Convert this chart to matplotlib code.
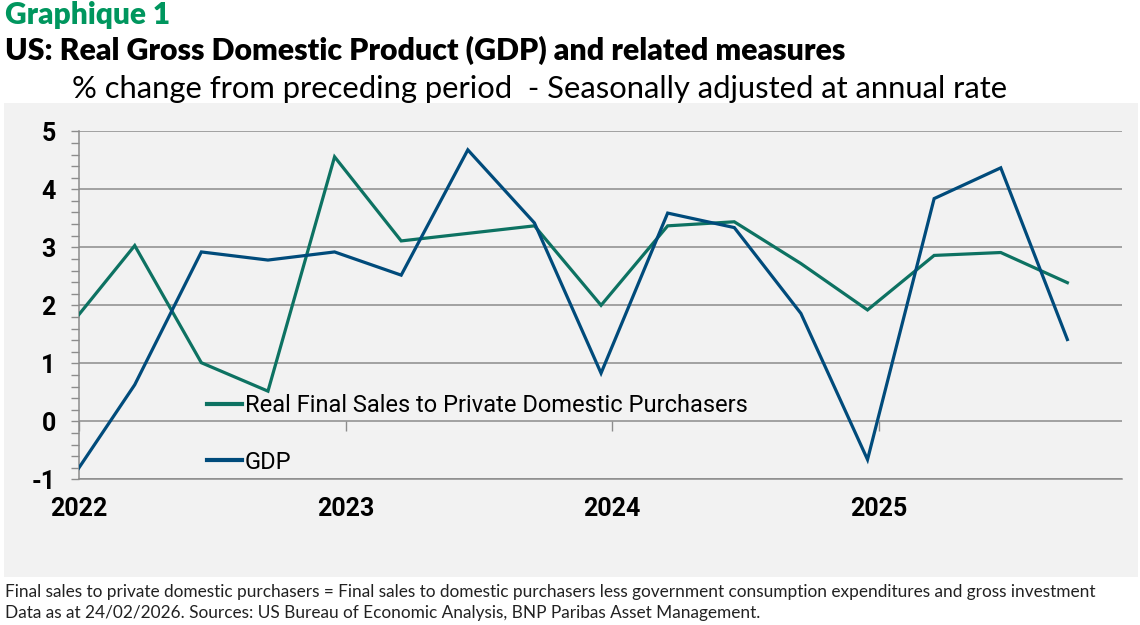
import matplotlib
matplotlib.use("Agg")
import matplotlib.pyplot as plt
from matplotlib.ticker import MultipleLocator

plt.rcParams["axes.unicode_minus"] = False

# quarterly data, % change q/q saar
quarters = ["2022Q1", "2022Q2", "2022Q3", "2022Q4",
            "2023Q1", "2023Q2", "2023Q3", "2023Q4",
            "2024Q1", "2024Q2", "2024Q3", "2024Q4",
            "2025Q1", "2025Q2", "2025Q3", "2025Q4"]
gdp = [-1.08, 0.63, 2.92, 2.78, 2.92, 2.52, 4.68, 3.42,
       0.83, 3.59, 3.34, 1.86, -0.66, 3.84, 4.37, 1.41]
final_sales = [1.61, 3.03, 1.01, 0.52, 4.56, 3.11, 3.24, 3.37,
               2.00, 3.37, 3.44, 2.72, 1.92, 2.86, 2.91, 2.39]
years = [2022, 2023, 2024, 2025]

GREEN = "#0d7262"
BLUE = "#004b7b"
GRID = "#8c8c8c"
PANEL = "#f2f2f2"
TITLE_GREEN = "#00965e"

# position of each quarter on a yearly axis (points sit half a month before quarter start)
x = [int(q[:4]) + (int(q[-1]) - 1) / 4 - 0.042 for q in quarters]

fig = plt.figure(figsize=(11.4, 6.25), dpi=100)
fig.patch.set_facecolor("white")

# grey panel behind the chart
panel = plt.Rectangle((4 / 1140, 1 - 577 / 625), 1134 / 1140, (577 - 103) / 625,
                      transform=fig.transFigure, facecolor=PANEL, edgecolor="none", zorder=-5)
fig.patches.append(panel)

ax = fig.add_axes([79.3 / 1140, 1 - 479.3 / 625, (1122 - 79.3) / 1140, (479.3 - 131.3) / 625])
ax.set_facecolor(PANEL)

ax.plot(x, final_sales, color=GREEN, lw=2.3, label="Real Final Sales to Private Domestic Purchasers",
        solid_joinstyle="miter", zorder=3)
ax.plot(x, gdp, color=BLUE, lw=2.3, label="GDP", solid_joinstyle="miter", zorder=4)

ax.set_xlim(2022, 2025.913)
ax.set_ylim(-1, 5)

ax.yaxis.set_major_locator(MultipleLocator(1))
ax.yaxis.set_minor_locator(MultipleLocator(0.2))
ax.grid(axis="y", which="major", color=GRID, lw=1.1)
ax.set_axisbelow(True)
ax.tick_params(axis="y", which="both", direction="out", length=6, width=1, color=GRID,
               labelsize=18, pad=11)
for lab in ax.get_yticklabels():
    lab.set_fontfamily("Roboto")
    lab.set_fontweight("bold")

ax.set_xticks(years)
ax.set_xticklabels([str(y) for y in years])
ax.tick_params(axis="x", length=0, labelsize=18, pad=13)
for lab in ax.get_xticklabels():
    lab.set_fontfamily("Roboto")
    lab.set_fontweight("bold")

for s in ["top", "right"]:
    ax.spines[s].set_visible(False)
for s in ["left", "bottom"]:
    ax.spines[s].set_color(GRID)
    ax.spines[s].set_linewidth(1.1)

# tick marks on the zero line
sec = ax.secondary_xaxis(1 / 6)
sec.set_xticks(years)
sec.set_xticklabels([])
sec.tick_params(axis="x", direction="out", length=7, width=1, color=GRID)
sec.spines["bottom"].set_visible(False)
sec.spines["top"].set_visible(False)

leg = ax.legend(loc="upper left", bbox_to_anchor=(0.122, 0.245), frameon=False,
                handlelength=1.5, handletextpad=0.12, labelspacing=1.42,
                prop={"family": "Roboto", "size": 17}, borderpad=0, borderaxespad=0)
for line in leg.get_lines():
    line.set_linewidth(3)

fig.text(5 / 1140, 1 - 15 / 625, "Graphique 1", color=TITLE_GREEN, fontsize=21.5,
         fontweight="heavy", family="Lato", va="center", ha="left")
fig.text(5 / 1140, 1 - 50 / 625, "US: Real Gross Domestic Product (GDP) and related measures",
         color="black", fontsize=21.8, fontweight="heavy", family="Lato", va="center", ha="left")
fig.text(72 / 1140, 1 - 89 / 625,
         "% change from preceding period  - Seasonally adjusted at annual rate",
         color="black", fontsize=22.3, fontweight="normal", family="Lato", va="center", ha="left")

fig.text(5 / 1140, 1 - 592 / 625,
         "Final sales to private domestic purchasers = Final sales to domestic purchasers less "
         "government consumption expenditures and gross investment",
         fontsize=12.4, family="Lato", va="center", ha="left", color="#222222")
fig.text(5 / 1140, 1 - 613 / 625,
         "Data as at 24/02/2026. Sources: US Bureau of Economic Analysis, BNP Paribas Asset Management.",
         fontsize=12.4, family="Lato", va="center", ha="left", color="#222222")

fig.savefig("out.png", dpi=100)
